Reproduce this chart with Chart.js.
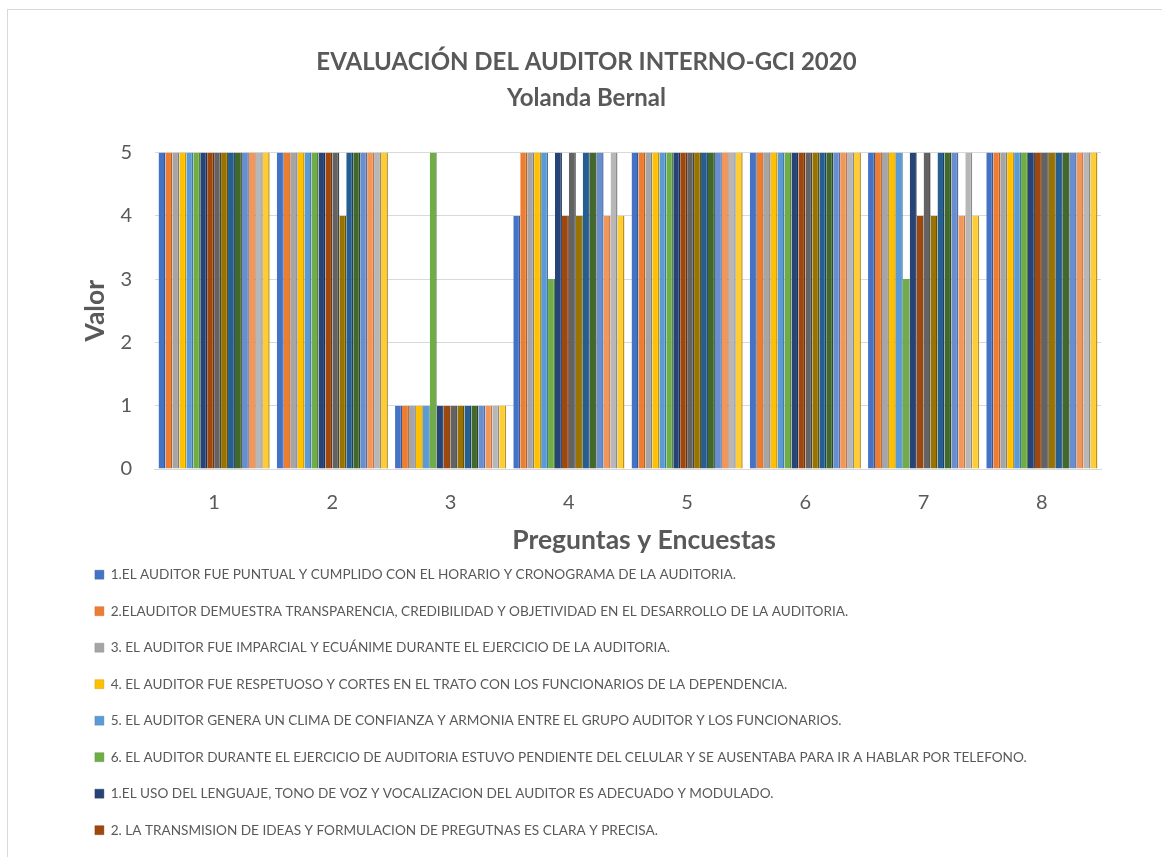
<!DOCTYPE html>
<html>
<head>
<meta charset="utf-8">
<script src="https://cdn.jsdelivr.net/npm/chart.js@4.4.1/dist/chart.umd.min.js"></script>
<style>
  html, body { margin: 0; padding: 0; background: #fff; }
  .frame { position: absolute; left: 7px; top: 9px; width: 1170px; height: 870px; border: 1px solid #d9d9d9; }
  .wrap { position: absolute; left: 0; top: 0; width: 1162px; height: 857px; }
</style>
</head>
<body>
<div class="frame"></div>
<div class="wrap"><canvas id="auditChart"></canvas></div>
<script>
// categorias (preguntas) y ticks
const categories = ['1', '2', '3', '4', '5', '6', '7', '8'];
const yTicks = [0, 1, 2, 3, 4, 5];

// nombres de las series (solo las 8 primeras se ven en la leyenda)
const seriesNames = [
  '1.EL AUDITOR FUE PUNTUAL Y CUMPLIDO CON EL HORARIO Y CRONOGRAMA DE LA AUDITORIA.',
  '2.ELAUDITOR DEMUESTRA TRANSPARENCIA, CREDIBILIDAD Y OBJETIVIDAD EN EL DESARROLLO DE LA AUDITORIA.',
  '3. EL AUDITOR FUE IMPARCIAL Y ECUÁNIME DURANTE EL EJERCICIO DE LA AUDITORIA.',
  '4. EL AUDITOR FUE RESPETUOSO Y CORTES EN EL TRATO CON LOS FUNCIONARIOS DE LA DEPENDENCIA.',
  '5. EL AUDITOR GENERA UN CLIMA DE CONFIANZA Y ARMONIA ENTRE EL GRUPO AUDITOR Y LOS FUNCIONARIOS.',
  '6. EL AUDITOR DURANTE EL EJERCICIO DE AUDITORIA ESTUVO PENDIENTE DEL CELULAR Y SE AUSENTABA PARA IR A HABLAR POR TELEFONO.',
  '1.EL USO DEL LENGUAJE, TONO DE VOZ Y VOCALIZACION DEL AUDITOR ES ADECUADO Y MODULADO.',
  '2. LA TRANSMISION DE IDEAS Y FORMULACION DE PREGUTNAS ES CLARA Y PRECISA.',
  'Serie 9', 'Serie 10', 'Serie 11', 'Serie 12', 'Serie 13', 'Serie 14', 'Serie 15', 'Serie 16'
];

// valores por serie (uno por pregunta)
const s1  = [5, 5, 1, 4, 5, 5, 5, 5];
const s2  = [5, 5, 1, 5, 5, 5, 5, 5];
const s3  = [5, 5, 1, 5, 5, 5, 5, 5];
const s4  = [5, 5, 1, 5, 5, 5, 5, 5];
const s5  = [5, 5, 1, 5, 5, 5, 5, 5];
const s6  = [5, 5, 5, 3, 5, 5, 3, 5];
const s7  = [5, 5, 1, 5, 5, 5, 5, 5];
const s8  = [5, 5, 1, 4, 5, 5, 4, 5];
const s9  = [5, 5, 1, 5, 5, 5, 5, 5];
const s10 = [5, 4, 1, 4, 5, 5, 4, 5];
const s11 = [5, 5, 1, 5, 5, 5, 5, 5];
const s12 = [5, 5, 1, 5, 5, 5, 5, 5];
const s13 = [5, 5, 1, 5, 5, 5, 5, 5];
const s14 = [5, 5, 1, 4, 5, 5, 4, 5];
const s15 = [5, 5, 1, 5, 5, 5, 5, 5];
const s16 = [5, 5, 1, 4, 5, 5, 4, 5];
const seriesValues = [s1, s2, s3, s4, s5, s6, s7, s8, s9, s10, s11, s12, s13, s14, s15, s16];

// paleta de office
const colors = ['#4472C4', '#ED7D31', '#A5A5A5', '#FFC000', '#5B9BD5', '#70AD47', '#264478', '#9E480E',
                '#636363', '#997300', '#255E91', '#43682B', '#698ED0', '#F1975A', '#B7B7B7', '#FFCD33'];
const edges  = ['#35599a', '#b85f22', '#7f7f7f', '#c49300', '#4377a6', '#55853a', '#1b3156', '#70330a',
                '#464646', '#6b5100', '#1a4267', '#2f4a1e', '#4f6fa8', '#c5744a', '#8c8c8c', '#b8931f'];

const textGray = '#595959';
const font = 'Lato, "Open Sans", sans-serif';

const datasets = seriesValues.map(function (vals, i) {
  return {
    label: seriesNames[i],
    data: vals,
    backgroundColor: colors[i],
    borderColor: edges[i],
    borderWidth: { top: 0, right: 1.5, bottom: 0, left: 0 },
    borderSkipped: false,
    categoryPercentage: 0.94,
    barPercentage: 1.0
  };
});

const ctx = document.getElementById('auditChart').getContext('2d');
new Chart(ctx, {
  type: 'bar',
  data: { labels: categories, datasets: datasets },
  options: {
    responsive: true,
    maintainAspectRatio: false,
    animation: false,
    layout: { padding: { left: 72, right: 61, top: 0, bottom: 10 } },
    plugins: {
      title: {
        display: true,
        text: ['EVALUACIÓN DEL AUDITOR INTERNO-GCI 2020', 'Yolanda Bernal'],
        color: textGray,
        font: { family: font, size: 24, weight: 'bold', lineHeight: 1.51 },
        padding: { top: 44, bottom: 36 }
      },
      legend: {
        position: 'bottom',
        align: 'start',
        labels: {
          color: textGray,
          font: { family: font, size: 13.6 },
          boxWidth: 9,
          boxHeight: 9,
          padding: 22.9,
          filter: function (item) { return item.datasetIndex < 8; }
        }
      },
      tooltip: { enabled: false }
    },
    scales: {
      x: {
        grid: { display: false, drawTicks: false },
        border: { display: true, color: '#d9d9d9' },
        ticks: { color: textGray, font: { family: font, size: 20 }, padding: 22 },
        title: {
          display: true,
          // espacios para correr el titulo un poco a la derecha como en el original
          text: '\u00a0\u00a0\u00a0\u00a0\u00a0Preguntas y Encuestas',
          color: textGray,
          font: { family: font, size: 26.5, weight: 'bold', lineHeight: 1.2 },
          padding: { top: -12.9, bottom: -10.9 }
        }
      },
      y: {
        min: 0,
        max: 5,
        afterBuildTicks: function (axis) {
          axis.ticks = yTicks.map(function (v) { return { value: v }; });
        },
        grid: { color: '#d9d9d9', drawTicks: false },
        border: { display: false },
        ticks: { color: textGray, font: { family: font, size: 20 }, padding: 23 },
        title: {
          display: true,
          text: 'Valor',
          color: textGray,
          font: { family: font, size: 26.5, weight: 'bold', lineHeight: 1.2 },
          padding: { top: 8, bottom: -14.4 }
        }
      }
    }
  }
});
</script>
</body>
</html>
